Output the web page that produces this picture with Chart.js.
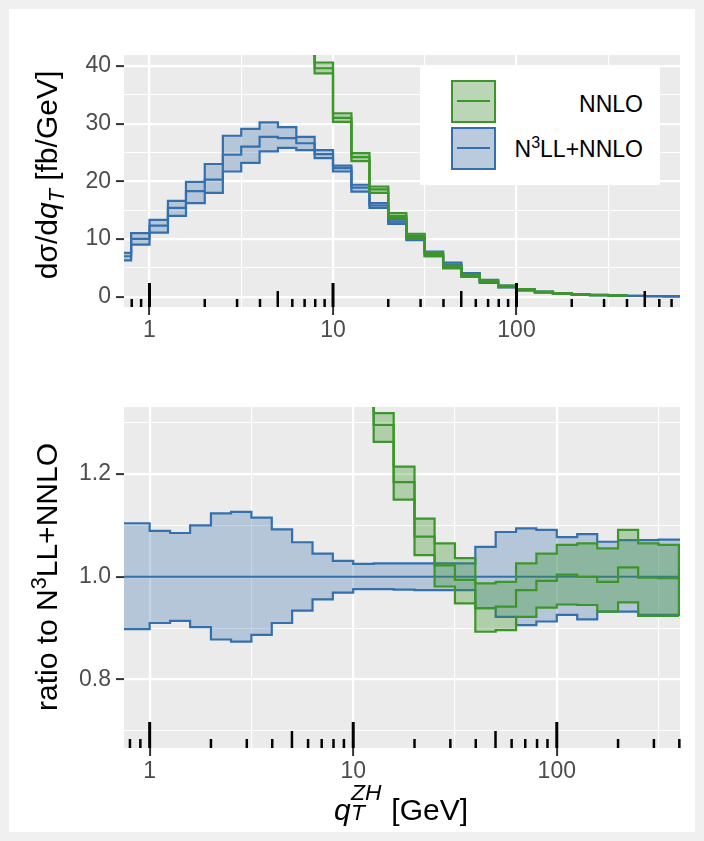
<!DOCTYPE html>
<html>
<head>
<meta charset="utf-8">
<script src="https://cdn.jsdelivr.net/npm/chart.js"></script>
<style>
  html, body { margin: 0; padding: 0; }
  body { width: 704px; height: 841px; background: #f0f0f0; position: relative; overflow: hidden;
         font-family: "Liberation Sans", Arial, sans-serif; }
  #card { position: absolute; left: 9px; top: 9px; width: 686px; height: 823px; background: #fff; }
  canvas { position: absolute; left: 0; }
  .ytitle { position: absolute; font-size: 30px; color: #000; white-space: nowrap; line-height: 1;
            transform: translate(-50%, -50%) rotate(-90deg); }
  .ytitle sub, .ytitle sup { font-size: 0.72em; line-height: 0; }
  #xtitle { position: absolute; left: 401px; top: 790px; transform: translateX(-50%);
            font-size: 30px; line-height: 1; white-space: nowrap; }
  .ss { display: inline-block; position: relative; width: 1.08em; height: 1em; }
  .ss i { position: absolute; left: 0.02em; font-size: 0.76em; }
  .ss .up { top: -0.4em; }
  .ss .dn { top: 0.5em; }
  #legend { position: absolute; left: 420px; top: 67px; width: 240px; height: 118px; background: #fff; }
  .key { position: absolute; left: 31px; width: 41px; height: 39px; border: 2px solid; }
  .key span { position: absolute; left: 4px; right: 4px; top: 18px; height: 2px; }
  .lab { position: absolute; right: 17px; font-size: 23px; line-height: 1; }
  .lab sup { font-size: 0.7em; line-height: 0; }
</style>
</head>
<body>
<div id="card"></div>
<canvas id="top" width="704" height="360" style="top:0"></canvas>
<canvas id="bottom" width="704" height="441" style="top:360px"></canvas>

<div class="ytitle" style="left:47px; top:175px">dσ/d<i>q</i><sub><i>T</i></sub> [fb/GeV]</div>
<div class="ytitle" style="left:47px; top:577px">ratio to N<sup>3</sup>LL+NNLO</div>
<div id="xtitle"><i>q</i><span class="ss"><i class="up">ZH</i><i class="dn">T</i></span> [GeV]</div>

<div id="legend">
  <div class="key" style="top:13px; border-color:#3d962b; background:linear-gradient(rgba(61,150,43,0.3),rgba(61,150,43,0.3)),#f2f2f2"><span style="background:#3d962b"></span></div>
  <div class="lab" style="top:26px">NNLO</div>
  <div class="key" style="top:60px; border-color:#3570ad; background:linear-gradient(rgba(53,112,173,0.3),rgba(53,112,173,0.3)),#f2f2f2"><span style="background:#3570ad"></span></div>
  <div class="lab" style="top:71px">N<sup>3</sup>LL+NNLO</div>
</div>

<script>
// bin edges in qT [GeV]
const binEdges = [0.631, 0.794, 1, 1.26, 1.58, 2, 2.51, 3.16, 3.98, 5.01, 6.31, 7.94, 10, 12.6, 15.8, 20,
  25.1, 31.6, 39.8, 50.1, 63.1, 79.4, 100, 126, 158, 200, 251, 316, 398, 501, 631, 794];

// top panel, N3LL+NNLO (bins 0..30)
const resumUpper = [7.6, 11.0, 13.3, 16.6, 19.9, 23.0, 27.9, 29.1, 30.2, 29.4, 27.7, 25.4, 22.7, 19.4, 16.2,
  13.4, 10.6, 7.8, 5.9, 4.1, 2.9, 1.9, 1.3, 0.85, 0.6, 0.42, 0.3, 0.2, 0.13, 0.09, 0.06];
const resumCentral = [7.0, 10.0, 12.3, 15.4, 18.3, 20.3, 24.6, 26.0, 27.7, 27.5, 26.6, 24.7, 22.3, 18.9, 15.8,
  13.0, 10.2, 7.4, 5.5, 3.8, 2.6, 1.75, 1.2, 0.78, 0.55, 0.38, 0.27, 0.18, 0.12, 0.08, 0.05];
const resumLower = [6.3, 9.0, 11.1, 14.0, 16.2, 18.0, 21.7, 23.2, 25.2, 25.8, 25.4, 24.0, 21.7, 18.2, 15.4,
  12.6, 9.8, 7.0, 5.1, 3.5, 2.4, 1.6, 1.1, 0.72, 0.5, 0.35, 0.25, 0.17, 0.11, 0.07, 0.045];

// top panel, NNLO (bins 10..27)
const nnloFirstBin = 10;
const nnloUpper = [52, 40.6, 31.8, 24.9, 19.1, 14.5, 10.9, 7.7, 5.4, 3.8, 2.8, 1.9, 1.3, 0.86, 0.6, 0.42, 0.29, 0.19];
const nnloCentral = [50.5, 39.6, 31.0, 24.2, 18.6, 14.0, 10.4, 7.35, 5.15, 3.6, 2.6, 1.75, 1.2, 0.78, 0.54, 0.39, 0.27, 0.18];
const nnloLower = [49, 38.7, 30.3, 23.5, 18.0, 13.6, 10.0, 7.0, 4.9, 3.4, 2.5, 1.65, 1.1, 0.73, 0.51, 0.36, 0.25, 0.17];

// bottom panel, ratio to N3LL+NNLO central (bins 0..28)
const ratioResumUpper = [1.104, 1.104, 1.089, 1.085, 1.100, 1.123, 1.126, 1.115, 1.092, 1.067, 1.045, 1.031,
  1.025, 1.026, 1.026, 1.026, 1.026, 1.026, 1.058, 1.087, 1.094, 1.091, 1.077, 1.083, 1.068, 1.071, 1.071, 1.072, 1.072];
const ratioResumCentral = [1, 1, 1, 1, 1, 1, 1, 1, 1, 1, 1, 1, 1, 1, 1, 1, 1, 1, 1, 1, 1, 1, 1, 1, 1, 1, 1, 1, 1];
const ratioResumLower = [0.898, 0.898, 0.910, 0.914, 0.902, 0.878, 0.874, 0.887, 0.910, 0.934, 0.956, 0.969,
  0.976, 0.976, 0.975, 0.974, 0.974, 0.974, 0.939, 0.922, 0.906, 0.913, 0.926, 0.917, 0.932, 0.932, 0.926, 0.926, 0.926];

// bottom panel, NNLO ratio (bins 12..27)
const ratioNnloFirstBin = 12;
const ratioNnloUpper = [1.45, 1.318, 1.214, 1.113, 1.065, 1.036, 0.987, 0.990, 1.026, 1.045, 1.062, 1.065, 1.055, 1.091, 1.065, 1.062];
const ratioNnloCentral = [1.40, 1.295, 1.184, 1.078, 1.022, 0.994, 0.939, 0.942, 0.974, 0.992, 1.004, 1.000, 0.990, 1.018, 0.998, 0.997];
const ratioNnloLower = [1.36, 1.262, 1.150, 1.042, 0.981, 0.948, 0.893, 0.896, 0.922, 0.940, 0.946, 0.945, 0.932, 0.950, 0.924, 0.924];

// axes
const xMajor = [1, 10, 100];
const xMajorLabels = ['1', '10', '100'];
const xMinor = [3.162, 31.62, 316.2];
const yTopMajor = [0, 10, 20, 30, 40];
const yTopLabels = ['0', '10', '20', '30', '40'];
const yTopMinor = [5, 15, 25, 35];
const yRatioMajor = [0.8, 1.0, 1.2];
const yRatioLabels = ['0.8', '1.0', '1.2'];
const yRatioMinor = [0.7, 0.9, 1.1, 1.3];
const logDecades = [0.1, 1, 10, 100];
const logDigits = [1, 2, 3, 4, 5, 6, 7, 8, 9];

const blue = '#3570ad', blueFill = 'rgba(53,112,173,0.3)';
const green = '#3d962b', greenFill = 'rgba(61,150,43,0.33)';

Chart.defaults.font.family = '"Liberation Sans", Arial, sans-serif';

function steps(first, vals) {
  const pts = vals.map((v, i) => ({ x: binEdges[first + i], y: v }));
  pts.push({ x: binEdges[first + vals.length], y: vals[vals.length - 1] });
  return pts;
}

function band(first, up, mid, lo, color, fill, order, close) {
  const upPts = steps(first, up);
  if (close) upPts.push({ x: upPts[upPts.length - 1].x, y: lo[lo.length - 1] });
  const common = { borderColor: color, borderWidth: 2.2, stepped: 'before', pointRadius: 0, clip: 0, order };
  return [
    Object.assign({ data: upPts, backgroundColor: fill, fill: '+1' }, common),
    Object.assign({ data: steps(first, lo), fill: false }, common),
    Object.assign({ data: steps(first, mid), fill: false }, common)
  ];
}

function isIn(v, list) { return list.some(m => Math.abs(m - v) < 1e-6 * Math.max(1, m)); }
function labelFor(v, list, labels) {
  const i = list.findIndex(m => Math.abs(m - v) < 1e-6 * Math.max(1, m));
  return i >= 0 ? labels[i] : '';
}

const panelBg = {
  id: 'panelBg',
  beforeDraw(chart) {
    const a = chart.chartArea, c = chart.ctx;
    c.save();
    c.fillStyle = '#ebebeb';
    c.fillRect(a.left, a.top, a.right - a.left, a.bottom - a.top);
    c.restore();
  }
};

const logTicks = {
  id: 'logTicks',
  afterDatasetsDraw(chart, args, opts) {
    const x = chart.scales.x, c = chart.ctx, bottom = chart.chartArea.bottom;
    c.save();
    c.strokeStyle = '#000';
    logDecades.forEach(dec => logDigits.forEach(d => {
      const v = d * dec;
      if (v < x.min || v > x.max) return;
      const px = x.getPixelForValue(v);
      const len = d === 1 ? opts.long : d === 5 ? opts.mid : opts.short;
      c.lineWidth = d === 1 ? 3 : 2.5;
      c.beginPath();
      c.moveTo(px, bottom);
      c.lineTo(px, bottom - len);
      c.stroke();
    }));
    c.restore();
  }
};

function xScale(min, max) {
  return {
    type: 'logarithmic', min, max, bounds: 'data',
    afterBuildTicks: s => { s.ticks = xMajor.concat(xMinor).sort((a, b) => a - b).map(v => ({ value: v })); },
    afterFit: s => { s.height = 53; },
    ticks: { autoSkip: false, maxRotation: 0, color: '#4d4d4d', font: { size: 23 }, padding: 2,
             callback: v => labelFor(v, xMajor, xMajorLabels) },
    grid: { color: '#fff', lineWidth: ctx => isIn(ctx.tick.value, xMajor) ? 2.2 : 1.1,
            drawTicks: true, tickLength: 8, tickWidth: 2,
            tickColor: ctx => isIn(ctx.tick.value, xMajor) ? '#333' : 'rgba(0,0,0,0)' },
    border: { display: false }
  };
}

function yScale(min, max, major, minor, labels) {
  return {
    min, max,
    afterBuildTicks: s => { s.ticks = major.concat(minor).sort((a, b) => a - b).map(v => ({ value: v })); },
    afterFit: s => { s.width = 124; },
    ticks: { autoSkip: false, color: '#4d4d4d', font: { size: 23 }, padding: 5,
             callback: v => labelFor(v, major, labels) },
    grid: { color: '#fff', lineWidth: ctx => isIn(ctx.tick.value, major) ? 2.2 : 1.1,
            drawTicks: true, tickLength: 8, tickWidth: 2,
            tickColor: ctx => isIn(ctx.tick.value, major) ? '#333' : 'rgba(0,0,0,0)' },
    border: { display: false }
  };
}

function baseOptions(padTop, xr, yr, tickLen) {
  return {
    responsive: false, animation: false, events: [], devicePixelRatio: 1,
    layout: { autoPadding: false, padding: { left: 0, top: padTop, right: 24, bottom: 0 } },
    plugins: { legend: { display: false }, tooltip: { enabled: false }, logTicks: tickLen },
    scales: { x: xr, y: yr }
  };
}

new Chart(document.getElementById('top'), {
  type: 'line',
  data: {
    datasets: band(0, resumUpper, resumCentral, resumLower, blue, blueFill, 2, false)
      .concat(band(nnloFirstBin, nnloUpper, nnloCentral, nnloLower, green, greenFill, 1, true))
  },
  options: baseOptions(55, xScale(0.726, 778), yScale(-1.8, 41.9, yTopMajor, yTopMinor, yTopLabels),
    { long: 24, mid: 16, short: 8 }),
  plugins: [panelBg, logTicks]
});

new Chart(document.getElementById('bottom'), {
  type: 'line',
  data: {
    datasets: band(0, ratioResumUpper, ratioResumCentral, ratioResumLower, blue, blueFill, 2, false)
      .concat(band(ratioNnloFirstBin, ratioNnloUpper, ratioNnloCentral, ratioNnloLower, green, greenFill, 1, true))
  },
  options: baseOptions(47, xScale(0.748, 403), yScale(0.667, 1.330, yRatioMajor, yRatioMinor, yRatioLabels),
    { long: 26, mid: 17, short: 9 }),
  plugins: [panelBg, logTicks]
});
</script>
</body>
</html>
